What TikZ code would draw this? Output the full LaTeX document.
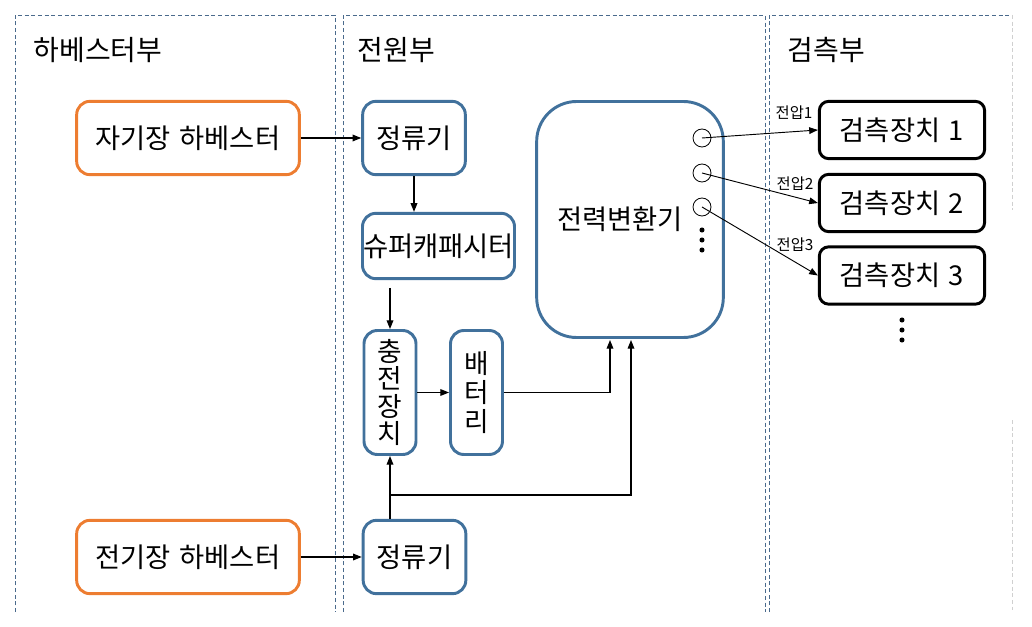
\documentclass[tikz,border=0pt]{standalone}
\usepackage{fontspec}
\setmainfont[WordSpace=1.4]{Noto Sans CJK KR}
\usetikzlibrary{arrows.meta}
\definecolor{harvorange}{HTML}{ED7D31}
\definecolor{powblue}{HTML}{41719C}
\definecolor{panelline}{HTML}{4A6A8C}
\definecolor{panelgray}{HTML}{D0D0D0}
\begin{document}
\begin{tikzpicture}[x=0.75pt, y=-0.75pt, line width=0.9pt, >={Triangle[length=6.5pt,width=5pt]},
harv node/.style={rectangle,rounded corners=10pt,draw=harvorange,line width=2.2pt,minimum width=167pt,minimum height=55pt,inner sep=0pt,font=\fontsize{20.5}{22}\selectfont},
pow node/.style={rectangle,rounded corners=10pt,draw=powblue,line width=2.2pt,inner sep=0pt,font=\fontsize{20.5}{22}\selectfont},
det node/.style={rectangle,rounded corners=7pt,draw=black,line width=2.2pt,minimum width=124pt,minimum height=43pt,inner sep=0pt,font=\fontsize{20.5}{22}\selectfont},
port node/.style={circle,draw,line width=0.6pt,minimum size=13.5pt,inner sep=0pt},
title node/.style={anchor=west,inner sep=0pt,font=\fontsize{21}{22}\selectfont},
volt label/.style={inner sep=0pt,font=\fontsize{11.5}{12}\selectfont},
panel/.style={draw=panelline,dash pattern=on 3pt off 2pt,line width=0.6pt}]
\useasboundingbox (0,0) rectangle (1032,627);
% panels
\draw[panel] (15,612) -- (15,15) -- (335,15) -- (335,612);
\draw[panel] (343,612) -- (343,15) -- (765,15) -- (765,612);
\draw[panel] (769,612) -- (769,15) -- (1012,15);
\draw[panel,draw=panelgray] (1012,15) -- (1012,210);
\draw[panel,draw=panelgray] (1012,420) -- (1012,610);
\node[title node] (t1) at (33,50) {하베스터부};
\node[title node] (t2) at (357,50) {전원부};
\node[title node] (t3) at (787,50) {검측부};
\node[harv node] (harvM) at (188,138) {자기장 하베스터};
\node[harv node] (harvE) at (188,557) {전기장 하베스터};
\node[pow node,minimum width=77pt,minimum height=55pt] (rectM) at (414,138) {정류기};
\node[pow node,minimum width=114pt,minimum height=49pt] (supcap) at (438.5,246) {슈퍼캐패시터};
\node[pow node,minimum width=39pt,minimum height=93pt,align=center,font=\fontsize{20}{20.5}\selectfont] (charger) at (390,392.5) {충\\전\\장\\치};
\node[pow node,minimum width=39pt,minimum height=93pt,align=center,font=\fontsize{20}{22}\selectfont] (battery) at (476.5,392.5) {배\\터\\리};
\node[pow node,minimum width=77pt,minimum height=55pt] (rectE) at (414.5,557) {정류기};
\node[pow node,rounded corners=30pt,minimum width=140pt,minimum height=177pt] (conv) at (630,219.5) {전력변환기\hspace*{15pt}};
\node[port node] (p1) at (702,138) {};
\node[port node] (p2) at (702,173) {};
\node[port node] (p3) at (702,207) {};
\fill (702,230) circle (1.9pt) (702,240) circle (1.9pt) (702,250) circle (1.9pt);
\node[det node] (det1) at (902,130) {검측장치 1};
\node[det node] (det2) at (902,203) {검측장치 2};
\node[det node] (det3) at (902,275.5) {검측장치 3};
\fill (902,320) circle (1.9pt) (902,330) circle (1.9pt) (902,340) circle (1.9pt);
\node[volt label] (v1) at (794,113) {전압1};
\node[volt label] (v2) at (795,184) {전압2};
\node[volt label] (v3) at (795,245) {전압3};
\coordinate (scout) at (390,288);
\coordinate (split) at (390,495);
\coordinate (cin1) at (610,340);
\coordinate (cin2) at (631,340);
\draw[->] (harvM) -- (rectM);
\draw[->] (harvE) -- (rectE);
\draw[->] (rectM) -- (rectM |- supcap.north);
\draw[->] (scout) -- (charger);
\draw[->] (charger) -- (battery);
\draw[->] (battery) -| (cin1);
\draw[->] (rectE.north -| charger) -- (charger.south);
\draw[->] (split) -| (cin2);
\draw[->,line width=0.7pt] (p1.center) -- (det1.west);
\draw[->,line width=0.7pt] (p2.center) -- (det2.west);
\draw[->,line width=0.7pt] (p3.center) -- (det3.west);
\end{tikzpicture}
\end{document}
